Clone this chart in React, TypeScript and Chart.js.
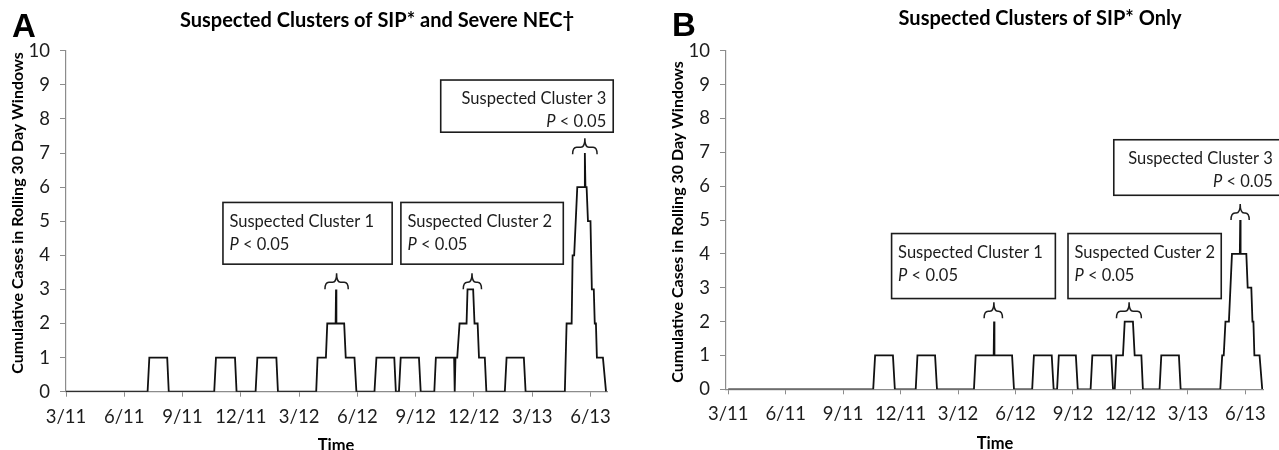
import React, { useEffect, useRef } from 'react';
import { Chart, registerables } from 'chart.js';

Chart.register(...registerables);

const FONT = 'Lato, "Open Sans", sans-serif';
const AXIS_GREY = '#8c8c8c';
const INK = '#1c1c1c';

// ---------- axis ticks (x in months since March 2011) ----------
const xTickValues = [0, 3, 6, 9, 12, 15, 18, 21, 24, 27];
const xTickLabels = ['3/11', '6/11', '9/11', '12/11', '3/12', '6/12', '9/12', '12/12', '3/13', '6/13'];
const yTickValues = [0, 1, 2, 3, 4, 5, 6, 7, 8, 9, 10];

// ---------- Panel A: SIP and severe NEC ----------
const monthsA = [
  0, 4.2, 4.29, 5.21, 5.29,
  7.63, 7.72, 8.7, 8.78,
  9.76, 9.85, 10.83, 10.91,
  12.88, 12.95, 13.38, 13.45, 13.88, 13.9, 13.92, 14.32, 14.4, 14.85, 14.95,
  15.88, 15.98, 16.9, 16.98,
  17.14, 17.23, 18.17, 18.26,
  18.96, 19.04, 19.98, 20.01, 20.05, 20.14, 20.26, 20.62, 20.67, 20.96, 21.03, 21.19, 21.26, 21.56, 21.64,
  22.59, 22.68, 23.57, 23.66,
  25.68, 25.77, 26.03, 26.08, 26.16, 26.32, 26.68, 26.71, 26.74, 26.8, 26.87, 27.0, 27.07, 27.17, 27.22, 27.28, 27.33, 27.64, 27.8,
];
const casesA = [
  0, 0, 1, 1, 0,
  0, 1, 1, 0,
  0, 1, 1, 0,
  0, 1, 1, 2, 2, 3, 2, 2, 1, 1, 0,
  0, 1, 1, 0,
  0, 1, 1, 0,
  0, 1, 1, 0, 1, 1, 2, 2, 3, 3, 2, 2, 1, 1, 0,
  0, 1, 1, 0,
  0, 2, 2, 4, 4, 6, 6, 7, 6, 6, 5, 5, 3, 3, 2, 2, 1, 1, 0,
];

// ---------- Panel B: SIP only ----------
const monthsB = [
  0, 7.57, 7.67, 8.6, 8.7,
  9.79, 9.88, 10.8, 10.9,
  12.83, 12.92, 13.86, 13.88, 13.9, 14.82, 14.92,
  15.87, 15.96, 16.89, 16.99,
  17.17, 17.26, 18.15, 18.25,
  18.92, 19.01, 20.0, 20.09,
  20.18, 20.26, 20.61, 20.7, 21.13, 21.22, 21.57, 21.65,
  22.52, 22.61, 23.53, 23.62,
  25.69, 25.79, 25.87, 25.96, 26.14, 26.3, 26.71, 26.73, 26.75, 27.05, 27.12, 27.31, 27.37, 27.42, 27.47, 27.74, 27.88,
];
const casesB = [
  0, 0, 1, 1, 0,
  0, 1, 1, 0,
  0, 1, 1, 2, 1, 1, 0,
  0, 1, 1, 0,
  0, 1, 1, 0,
  0, 1, 1, 0,
  0, 1, 1, 2, 2, 1, 1, 0,
  0, 1, 1, 0,
  0, 1, 1, 2, 2, 4, 4, 5, 4, 4, 3, 3, 2, 2, 1, 1, 0,
];

type Box = { x1: number; x2: number; yTop: number; yBottom: number; label: string; align: 'left' | 'right' };
type Brace = { xL: number; xR: number; xTip: number; yTop: number };

const boxesA: Box[] = [
  { x1: 8.08, x2: 16.79, yTop: 5.55, yBottom: 3.74, label: 'Suspected Cluster 1', align: 'left' },
  { x1: 17.24, x2: 25.6, yTop: 5.55, yBottom: 3.74, label: 'Suspected Cluster 2', align: 'left' },
  { x1: 19.29, x2: 28.17, yTop: 9.14, yBottom: 7.61, label: 'Suspected Cluster 3', align: 'right' },
];
const bracesA: Brace[] = [
  { xL: 13.33, xR: 14.53, xTip: 13.93, yTop: 3.47 },
  { xL: 20.45, xR: 21.39, xTip: 20.9, yTop: 3.47 },
  { xL: 26.08, xR: 27.34, xTip: 26.71, yTop: 7.43 },
];
const boxesB: Box[] = [
  { x1: 8.53, x2: 17.08, yTop: 4.6, yBottom: 2.68, label: 'Suspected Cluster 1', align: 'left' },
  { x1: 17.74, x2: 25.74, yTop: 4.6, yBottom: 2.68, label: 'Suspected Custer 2', align: 'left' },
  { x1: 20.13, x2: 28.8, yTop: 7.37, yBottom: 5.73, label: 'Suspected Cluster 3', align: 'right' },
];
const bracesB: Brace[] = [
  { xL: 13.36, xR: 14.32, xTip: 13.87, yTop: 2.57 },
  { xL: 20.27, xR: 21.57, xTip: 20.93, yTop: 2.57 },
  { xL: 26.25, xR: 27.2, xTip: 26.73, yTop: 5.47 },
];

interface PanelSpec {
  letter: string;
  title: string;
  months: number[];
  cases: number[];
  boxes: Box[];
  braces: Brace[];
  xMin: number;
  xMax: number;
  left: number;
  width: number;
  chartLeft: number;
  chartRight: number;
  chartTop: number;
  chartBottom: number;
  letterPos: [number, number];
  titlePos: [number, number];
  yTitlePos: [number, number];
  xTitlePos: [number, number];
}

const panelA: PanelSpec = {
  letter: 'A',
  title: 'Suspected Clusters of SIP* and Severe NEC\u2020',
  months: monthsA,
  cases: casesA,
  boxes: boxesA,
  braces: bracesA,
  xMin: 0,
  xMax: 27.85,
  left: 0,
  width: 640,
  chartLeft: 66,
  chartRight: 607,
  chartTop: 50.7,
  chartBottom: 391.7,
  letterPos: [12, 37],
  titlePos: [377, 20.7],
  yTitlePos: [17.5, 213],
  xTitlePos: [336, 446],
};

const panelB: PanelSpec = {
  letter: 'B',
  title: 'Suspected Clusters of SIP* Only',
  months: monthsB,
  cases: casesB,
  boxes: boxesB,
  braces: bracesB,
  xMin: -0.115,
  xMax: 27.92,
  left: 640,
  width: 639,
  chartLeft: 86,
  chartRight: 623,
  chartTop: 50.7,
  chartBottom: 389.3,
  letterPos: [32, 36],
  titlePos: [400, 19],
  yTitlePos: [38.3, 222],
  xTitlePos: [355, 444],
};

function drawBrace(ctx: CanvasRenderingContext2D, xL: number, xR: number, xT: number, yTop: number) {
  const yMid = yTop + 9;
  const yEnd = yMid + 7;
  const r = 4;
  ctx.beginPath();
  ctx.moveTo(xL, yEnd);
  ctx.quadraticCurveTo(xL, yMid, xL + r, yMid);
  ctx.lineTo(xT - r, yMid);
  ctx.quadraticCurveTo(xT, yMid, xT, yTop);
  ctx.quadraticCurveTo(xT, yMid, xT + r, yMid);
  ctx.lineTo(xR - r, yMid);
  ctx.quadraticCurveTo(xR, yMid, xR, yEnd);
  ctx.stroke();
}

const BOX_FONT_SIZE = 16.5;

function drawPText(ctx: CanvasRenderingContext2D, x: number, y: number, align: 'left' | 'right') {
  const italic = `italic ${BOX_FONT_SIZE}px ${FONT}`;
  const normal = `${BOX_FONT_SIZE}px ${FONT}`;
  const rest = ' < 0.05';
  ctx.font = italic;
  const wP = ctx.measureText('P').width;
  ctx.font = normal;
  const wR = ctx.measureText(rest).width;
  const start = align === 'left' ? x : x - wP - wR;
  ctx.textAlign = 'left';
  ctx.font = italic;
  ctx.fillText('P', start, y);
  ctx.font = normal;
  ctx.fillText(rest, start + wP, y);
}

function makeOverlay(spec: PanelSpec) {
  return {
    id: 'overlay' + spec.letter,
    afterDraw(chart: any) {
      const ctx: CanvasRenderingContext2D = chart.ctx;
      const xs = chart.scales.x;
      const ys = chart.scales.y;
      ctx.save();
      // annotation boxes
      for (const b of spec.boxes) {
        const x1 = xs.getPixelForValue(b.x1);
        const x2 = xs.getPixelForValue(b.x2);
        const y1 = ys.getPixelForValue(b.yTop);
        const y2 = ys.getPixelForValue(b.yBottom);
        ctx.fillStyle = '#ffffff';
        ctx.fillRect(x1, y1, x2 - x1, y2 - y1);
        ctx.strokeStyle = INK;
        ctx.lineWidth = 1.6;
        ctx.strokeRect(x1, y1, x2 - x1, y2 - y1);
        ctx.fillStyle = INK;
        ctx.textBaseline = 'middle';
        ctx.font = `${BOX_FONT_SIZE}px ${FONT}`;
        if (b.align === 'left') {
          ctx.textAlign = 'left';
          ctx.fillText(b.label, x1 + 6.5, y1 + 19);
          drawPText(ctx, x1 + 6.5, y1 + 42, 'left');
        } else {
          ctx.textAlign = 'right';
          ctx.fillText(b.label, x2 - 7, y1 + 19);
          drawPText(ctx, x2 - 7, y1 + 42, 'right');
        }
      }
      // braces
      ctx.strokeStyle = INK;
      ctx.lineWidth = 1.5;
      for (const br of spec.braces) {
        drawBrace(
          ctx,
          xs.getPixelForValue(br.xL),
          xs.getPixelForValue(br.xR),
          xs.getPixelForValue(br.xTip),
          ys.getPixelForValue(br.yTop)
        );
      }
      // panel letter
      ctx.fillStyle = '#000';
      ctx.textAlign = 'left';
      ctx.textBaseline = 'alphabetic';
      ctx.font = 'bold 33px "Liberation Sans", Arial, sans-serif';
      ctx.fillText(spec.letter, spec.letterPos[0], spec.letterPos[1]);
      // title
      ctx.textAlign = 'center';
      ctx.textBaseline = 'middle';
      ctx.font = `bold 20px ${FONT}`;
      ctx.fillText(spec.title, spec.titlePos[0], spec.titlePos[1]);
      // x title
      ctx.font = `bold 16.5px ${FONT}`;
      ctx.fillText('Time', spec.xTitlePos[0], spec.xTitlePos[1]);
      // y title
      ctx.save();
      ctx.translate(spec.yTitlePos[0], spec.yTitlePos[1]);
      ctx.rotate(-Math.PI / 2);
      ctx.font = `bold 16px ${FONT}`;
      ctx.fillText('Cumulative Cases in Rolling 30 Day Windows', 0, 0);
      ctx.restore();
      ctx.restore();
    },
  };
}

function Panel({ spec }: { spec: PanelSpec }) {
  const ref = useRef<HTMLCanvasElement>(null);
  useEffect(() => {
    if (!ref.current) return;
    const H = 450;
    const chart = new Chart(ref.current, {
      type: 'line',
      data: {
        datasets: [
          {
            data: spec.months.map((m, i) => ({ x: m, y: spec.cases[i] })),
            borderColor: '#111111',
            borderWidth: 1.8,
            pointRadius: 0,
            tension: 0,
            fill: false,
          },
        ],
      },
      options: {
        animation: false,
        responsive: false,
        maintainAspectRatio: false,
        layout: {
          padding: { top: spec.chartTop, right: spec.width - spec.chartRight, left: 0, bottom: 0 },
        },
        plugins: {
          legend: { display: false },
          tooltip: { enabled: false },
          title: { display: false },
        },
        scales: {
          x: {
            type: 'linear',
            min: spec.xMin,
            max: spec.xMax,
            afterBuildTicks: (s: any) => {
              s.ticks = xTickValues.map((v) => ({ value: v }));
            },
            afterFit: (s: any) => {
              s.height = H - spec.chartBottom;
            },
            ticks: {
              autoSkip: false,
              maxRotation: 0,
              padding: 9,
              color: INK,
              font: { family: FONT, size: 18.5 },
              callback: (v: any) => {
                const i = xTickValues.indexOf(Number(v));
                return i >= 0 ? xTickLabels[i] : '';
              },
            },
            grid: { drawOnChartArea: false, drawTicks: true, tickLength: 5, color: AXIS_GREY, lineWidth: 1 },
            border: { display: true, color: AXIS_GREY, width: 1.2 },
          },
          y: {
            type: 'linear',
            min: 0,
            max: 10,
            afterBuildTicks: (s: any) => {
              s.ticks = yTickValues.map((v) => ({ value: v }));
            },
            afterFit: (s: any) => {
              s.width = spec.chartLeft;
            },
            ticks: {
              padding: 10,
              color: INK,
              font: { family: FONT, size: 18.5 },
            },
            grid: { drawOnChartArea: false, drawTicks: true, tickLength: 6, color: AXIS_GREY, lineWidth: 1 },
            border: { display: true, color: AXIS_GREY, width: 1.2 },
          },
        },
      },
      plugins: [makeOverlay(spec)],
    } as any);
    return () => chart.destroy();
  }, [spec]);
  return (
    <div style={{ position: 'absolute', left: spec.left, top: 0, width: spec.width, height: 450 }}>
      <canvas ref={ref} width={spec.width} height={450} style={{ display: 'block', width: spec.width, height: 450 }} />
    </div>
  );
}

export default function App() {
  return (
    <div
      style={{
        position: 'fixed',
        left: 0,
        top: 0,
        width: 1279,
        height: 450,
        background: '#ffffff',
        overflow: 'hidden',
      }}
    >
      <Panel spec={panelA} />
      <Panel spec={panelB} />
    </div>
  );
}
